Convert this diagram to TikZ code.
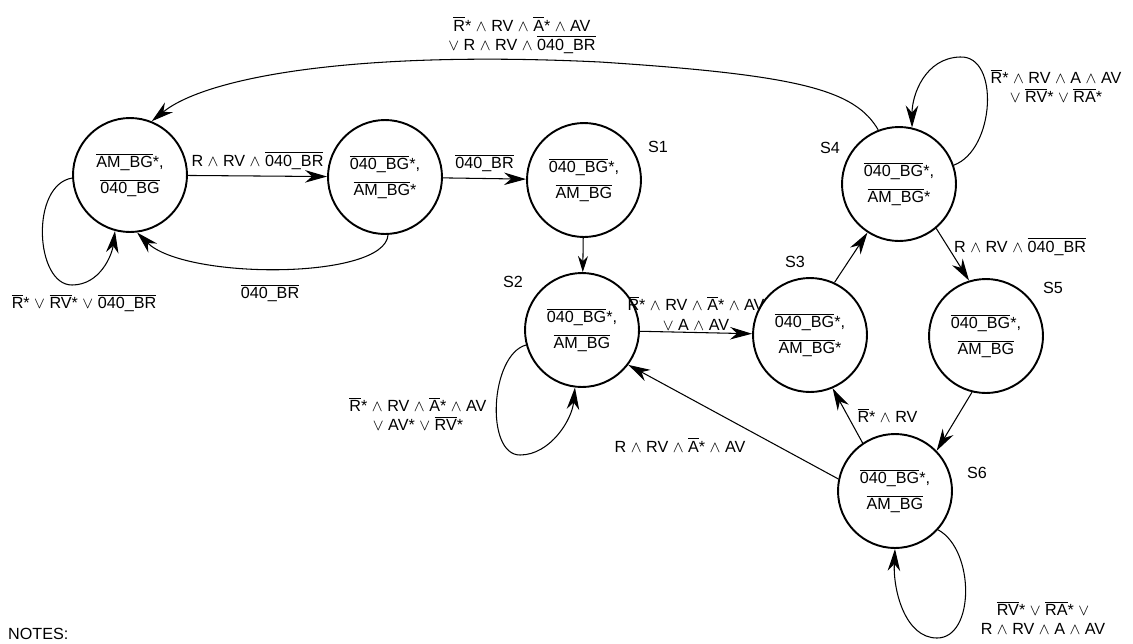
\documentclass[tikz,border=0pt]{standalone}
\usepackage{fontspec}
\setmainfont{Liberation Sans}
\usetikzlibrary{arrows.meta}
\newcommand{\ovl}[1]{\ensuremath{\overline{\mbox{#1}}}}
\newcommand{\An}{$\wedge$}
\newcommand{\Or}{$\vee$}

\begin{document}
\begin{tikzpicture}[x=0.02cm,y=-0.02cm,>={Stealth[length=4.4mm,width=2.5mm,inset=1.4mm]},
 every node/.style={font=\fontsize{9.2}{11}\selectfont},
 st/.style={circle,draw,line width=1.1pt,minimum size=2.28cm,inner sep=0pt,align=center},
 tr/.style={->,line width=.6pt},
 lbl/.style={align=center,inner sep=1pt}]
\useasboundingbox (0,0) rectangle (1133,643);
% states
\node[st] (St-n0) at (130,175) {\ovl{AM\_BG}*,\\[4pt]\ovl{040\_BG}};
\node[st] (St-n1) at (385,177) {\ovl{040\_BG}*,\\[4pt]\ovl{AM\_BG}*};
\node[st] (St-s1) at (584,180) {\ovl{040\_BG}*,\\[4pt]\ovl{AM\_BG}};
\node[st] (St-s2) at (582,330) {\ovl{040\_BG}*,\\[4pt]\ovl{AM\_BG}};
\node[st] (St-s3) at (810,335) {\ovl{040\_BG}*,\\[4pt]\ovl{AM\_BG}*};
\node[st] (St-s4) at (899,184) {\ovl{040\_BG}*,\\[4pt]\ovl{AM\_BG}*};
\node[st] (St-s5) at (986,336) {\ovl{040\_BG}*,\\[4pt]\ovl{AM\_BG}};
\node[st] (St-s6) at (895,491) {\ovl{040\_BG}*,\\[4pt]\ovl{AM\_BG}};
\node (Nm-s1) at (658,147) {S1};\node (Nm-s2) at (513,282) {S2};
\node (Nm-s3) at (795,262) {S3};\node (Nm-s4) at (830,148) {S4};
\node (Nm-s5) at (1053,288) {S5};\node (Nm-s6) at (977,473) {S6};
% transitions
\draw[tr] (St-n0)--node[above] {R \An{} RV \An{} \ovl{040\_BR}}(St-n1);
\draw[tr] (St-n1)--node[above] {\ovl{040\_BR}}(St-s1);
\draw[tr,>={Stealth[length=3.2mm,width=2mm,inset=1mm]}] (St-s1)--(St-s2);
\draw[tr] (St-s2)--node[above,lbl] {\ovl{R}* \An{} RV \An{} \ovl{A}* \An{} AV\\\Or{} A \An{} AV}(St-s3);
\draw[tr] (St-s3.65)--(St-s4.237);
\draw[tr] (St-s4.-50)--node[pos=.35,right] {R \An{} RV \An{} \ovl{040\_BR}}(St-s5.107);
\draw[tr] (St-s5.256)--(St-s6.44);
\draw[tr] (St-s6.124)--node[right=2pt] {\ovl{R}* \An{} RV}(St-s3.293);
\draw[tr] (St-s6.168)--(St-s2.-37);
\node[lbl] (Lb-s6s2) at (680,445) {R \An{} RV \An{} \ovl{A}* \An{} AV};
\draw[tr] (St-n1.-87) .. controls (385,280) and (185,280) .. (St-n0.-83);
\node[lbl] (Lb-n1n0) at (270,293) {\ovl{040\_BR}};
\draw[tr] (St-s4.111) .. controls (855,90) and (800,75) .. (600,62)
 .. controls (350,50) and (205,78) .. (St-n0.68);
\node[lbl] (Lb-s4n0) at (522,35) {\ovl{R}* \An{} RV \An{} \ovl{A}* \An{} AV\\\Or{} R \An{} RV \An{} \ovl{040\_BR}};
% self loops
\draw[tr] (St-n0.183) .. controls (30,185) and (35,285) .. (72,285)
 .. controls (100,285) and (112,255) .. (St-n0.255);
\node[lbl] (Lb-n0) at (84,303) {\ovl{R}* \Or{} \ovl{RV}* \Or{}\ \ovl{040\_BR}};
\draw[tr] (St-s2.195) .. controls (490,355) and (485,455) .. (520,455)
 .. controls (550,455) and (572,420) .. (St-s2.-97);
\node[lbl] (Lb-s2) at (418,414) {\ovl{R}* \An{} RV \An{} \ovl{A}* \An{} AV\\\Or{} AV* \Or{} \ovl{RV}*};
\draw[tr] (St-s4.19) .. controls (995,150) and (1000,55) .. (960,57)
 .. controls (925,58) and (912,95) .. (St-s4.77);
\node[lbl] (Lb-s4) at (1056,86) {\ovl{R}* \An{} RV \An{} A \An{} AV\\\Or{} \ovl{RV}* \Or{} \ovl{RA}*};
\draw[tr] (St-s6.-42) .. controls (975,550) and (975,638) .. (937,638)
 .. controls (905,638) and (893,590) .. (St-s6.-90);
\node[lbl] (Lb-s6) at (1043,618) {\ovl{RV}* \Or{} \ovl{RA}* \Or{}\\R \An{} RV \An{} A \An{} AV};
\node[anchor=base west] (Nt) at (2,639) {NOTES:};
\end{tikzpicture}
\end{document}
